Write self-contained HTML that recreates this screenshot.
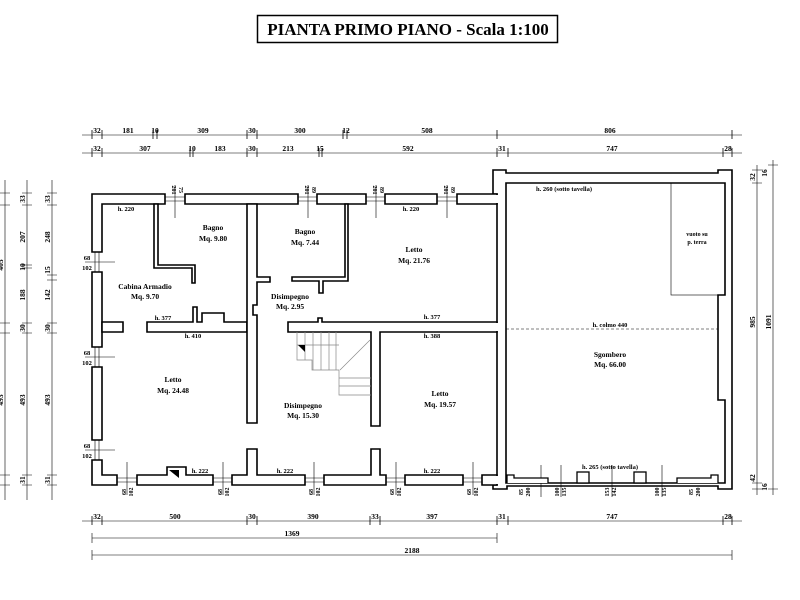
<!DOCTYPE html>
<html><head><meta charset="utf-8"><style>
html,body{margin:0;padding:0;background:#fff;width:800px;height:600px;overflow:hidden}
svg text{font-family:"Liberation Serif",serif;font-weight:bold;fill:#000}
</style></head><body>
<svg width="800" height="600" viewBox="0 0 800 600" xmlns="http://www.w3.org/2000/svg">
<rect x="257.5" y="15.5" width="300" height="27" fill="none" stroke="#000" stroke-width="1.5"/>
<text x="408" y="35" font-size="17" text-anchor="middle">PIANTA PRIMO PIANO - Scala 1:100</text>

<g stroke="#000" stroke-width="0.6" fill="none">
<line x1="82" y1="135" x2="742" y2="135"/>
<line x1="82" y1="153" x2="742" y2="153"/>
<g stroke-width="0.8">
<path d="M92 130v9M102 130v9M153 130v9M157 130v9M247 130v9M257 130v9M343 130v9M347 130v9M497 130v9M732 130v9"/>
<path d="M92 148v9M102 148v9M190 148v9M193 148v9M247 148v9M257 148v9M319 148v9M322 148v9M497 148v9M508 148v9M723 148v9M732 148v9"/>
</g>
<line x1="82" y1="521" x2="742" y2="521"/>
<path d="M92 516v9M102 516v9M247 516v9M257 516v9M370 516v9M380 516v9M497 516v9M508 516v9M723 516v9M732 516v9" stroke-width="0.8"/>
<line x1="92" y1="538" x2="497" y2="538"/><path d="M92 533v10M497 533v10"/>
<line x1="92" y1="555" x2="732" y2="555"/><path d="M92 550v10M732 550v10"/>
<line x1="5" y1="180" x2="5" y2="500"/>
<line x1="27" y1="180" x2="27" y2="500"/>
<line x1="52" y1="180" x2="52" y2="500"/>
<path d="M0 193h10M0 205h10M0 323h10M0 333h10M0 475h10M0 485h10M22 193h10M22 205h10M22 265h10M22 268h10M22 323h10M22 333h10M22 475h10M22 485h10M47 193h10M47 205h10M47 275h10M47 280h10M47 323h10M47 333h10M47 475h10M47 485h10"/>
<line x1="757" y1="165" x2="757" y2="495"/>
<line x1="773" y1="160" x2="773" y2="495"/>
<path d="M752 170h10M752 183h10M752 483h10M752 489h10M768 165h10M768 489h10"/>
</g>
<g font-size="7.5" text-anchor="middle">
<text x="97" y="133">32</text><text x="128" y="133">181</text><text x="155" y="133">10</text><text x="203" y="133">309</text><text x="252" y="133">30</text><text x="300" y="133">300</text><text x="346" y="133">12</text><text x="427" y="133">508</text><text x="610" y="133">806</text>
<text x="97" y="151">32</text><text x="145" y="151">307</text><text x="192" y="151">10</text><text x="220" y="151">183</text><text x="252" y="151">30</text><text x="288" y="151">213</text><text x="320" y="151">15</text><text x="408" y="151">592</text><text x="502" y="151">31</text><text x="612" y="151">747</text><text x="728" y="151">28</text>
<text x="97" y="519">32</text><text x="175" y="519">500</text><text x="252" y="519">30</text><text x="313" y="519">390</text><text x="375" y="519">33</text><text x="432" y="519">397</text><text x="502" y="519">31</text><text x="612" y="519">747</text><text x="728" y="519">28</text>
<text x="292" y="536">1369</text><text x="412" y="553">2188</text>
</g>
<g font-size="7.5" text-anchor="middle">
<text transform="translate(25,237) rotate(-90)">207</text><text transform="translate(25,295) rotate(-90)">188</text><text transform="translate(25,400) rotate(-90)">493</text><text transform="translate(25,199) rotate(-90)">33</text><text transform="translate(25,328) rotate(-90)">30</text><text transform="translate(25,267) rotate(-90)">10</text><text transform="translate(25,480) rotate(-90)">31</text>
<text transform="translate(50,237) rotate(-90)">248</text><text transform="translate(50,295) rotate(-90)">142</text><text transform="translate(50,400) rotate(-90)">493</text><text transform="translate(50,199) rotate(-90)">33</text><text transform="translate(50,328) rotate(-90)">30</text><text transform="translate(50,270) rotate(-90)">15</text><text transform="translate(50,480) rotate(-90)">31</text>
<text transform="translate(3,265) rotate(-90)">405</text><text transform="translate(3,400) rotate(-90)">493</text>
<text transform="translate(755,322) rotate(-90)">985</text><text transform="translate(771,322) rotate(-90)">1091</text>
<text transform="translate(755,177) rotate(-90)">32</text><text transform="translate(767,173) rotate(-90)">16</text>
<text transform="translate(755,478) rotate(-90)">42</text><text transform="translate(767,487) rotate(-90)">16</text>
</g>

<g fill="#fff" stroke="#000" stroke-width="1.6">
<!-- right block walls (evenodd ring) -->
<path fill-rule="evenodd" d="M493 170H506V173H718V170H732V489H718V486H507V489H493V485H497V194H493Z M506 183H725V295H718V400H725V483H506Z"/>
<!-- outer walls left part -->
<path d="M92 194H165V204H102V252H92Z"/>
<path d="M185 194H298V204H185Z"/><path d="M317 194H366V204H317Z"/><path d="M385 194H437V204H385Z"/><path d="M457 194H497V204H457Z"/>
<path d="M92 272H102V347H92Z"/><path d="M92 367H102V440H92Z"/>
<path d="M92 460H102V475H117V485H92Z"/>
<path d="M137 475H167V467H186V475H213V485H137Z"/>
<path d="M232 475H247V449H257V475H305V485H232Z"/>
<path d="M324 475H371V449H380V475H386V485H324Z"/>
<path d="M405 475H463V485H405Z"/>
<path d="M482 475H497V485H482Z"/>
<!-- interior -->
<path d="M154 204H158V265H195V283H192V268H154Z"/>
<path d="M102 322H123V332H102Z"/>
<path d="M147 322H193V307H197V322H202V313H224V322H247V332H147Z"/>
<path d="M247 204H257V277H270V282H257V305H253V315H257V423H247Z"/>
<path d="M345 204H348V281H323V293H319V281H292V277H345Z"/>
<path d="M288 322H318V318H322V322H497V332H380V426H371V332H288Z"/>
</g>
<!-- junction cleanups -->
<g fill="#fff">
<rect x="494.5" y="195" width="4.5" height="8"/>
<rect x="494.5" y="323" width="4.5" height="8"/>
<rect x="494.5" y="476" width="4.5" height="8"/>
<rect x="93" y="195" width="8" height="8"/>
</g>
<!-- windows thin lines -->
<g stroke="#000" stroke-width="0.6" fill="none">
<path d="M165 197H185M165 201H185M298 197H317M298 201H317M366 197H385M366 201H385M437 197H457M437 201H457"/>
<path d="M95 252V272M99 252V272M95 347V367M99 347V367M95 440V460M99 440V460"/>
<path d="M117 478H137M117 482H137M213 478H232M213 482H232M305 478H324M305 482H324M386 478H405M386 482H405M463 478H482M463 482H482"/>
<path d="M175 185V218M308 185V218M376 185V218M447 185V218"/>
<path d="M85 262H115M85 357H115M85 450H115"/>
<path d="M127 462V495M223 462V495M314 462V495M396 462V495M473 462V495"/>
<path d="M541 465V497M561 465V497M612 465V497M662 465V497"/>
<rect x="671" y="183" width="54" height="112"/>
<line x1="506" y1="329" x2="718" y2="329" stroke-dasharray="3,2"/>
</g>
<g fill="#fff" stroke="#000" stroke-width="1.3">
<rect x="577" y="472" width="12" height="11"/><rect x="634" y="472" width="12" height="11"/>
<path d="M507 483V475H514V478H548V483"/>
<path d="M718 483V475H711V478H677V483"/>
</g>
<polygon points="169,470 179,470 179,478" fill="#000"/>
<!-- stairs -->
<g stroke="#888" stroke-width="0.7" fill="none">
<path d="M297 332V360H312V370H339V395H371"/>
<path d="M305 332V360M313 332V370M321 332V370M329 332V370M336 332V370M339 378H371M339 386H371M297 345H339M340 370L370 340"/>
</g>
<polygon points="298,345 305,345 305,352" fill="#000"/>

<g font-size="7.5" text-anchor="middle">
<text x="213" y="230">Bagno</text><text x="213" y="241">Mq. 9.80</text>
<text x="305" y="234">Bagno</text><text x="305" y="245">Mq. 7.44</text>
<text x="414" y="252">Letto</text><text x="414" y="263">Mq. 21.76</text>
<text x="145" y="289">Cabina Armadio</text><text x="145" y="299">Mq. 9.70</text>
<text x="290" y="299">Disimpegno</text><text x="290" y="309">Mq. 2.95</text>
<text x="173" y="382">Letto</text><text x="173" y="393">Mq. 24.48</text>
<text x="303" y="408">Disimpegno</text><text x="303" y="418">Mq. 15.30</text>
<text x="440" y="396">Letto</text><text x="440" y="407">Mq. 19.57</text>
<text x="610" y="357">Sgombero</text><text x="610" y="367">Mq. 66.00</text>
</g>
<g font-size="6.5" text-anchor="middle">
<text x="126" y="211">h. 220</text><text x="411" y="211">h. 220</text>
<text x="163" y="320">h. 377</text><text x="432" y="319">h. 377</text>
<text x="193" y="338">h. 410</text><text x="432" y="338">h. 388</text>
<text x="200" y="473">h. 222</text><text x="285" y="473">h. 222</text><text x="432" y="473">h. 222</text>
<text x="564" y="191">h. 260 (sotto tavella)</text>
<text x="610" y="327">h. colmo 440</text>
<text x="610" y="469">h. 265 (sotto tavella)</text>
<text x="697" y="236" font-size="6">vuoto su</text><text x="697" y="244" font-size="6">p. terra</text>
<text x="87" y="260">68</text><text x="87" y="270">102</text>
<text x="87" y="355">68</text><text x="87" y="365">102</text>
<text x="87" y="448">68</text><text x="87" y="458">102</text>
</g>
<g font-size="6" text-anchor="middle">
<text transform="translate(172,190) rotate(90)">201</text><text transform="translate(179,190) rotate(90)">75</text>
<text transform="translate(305,190) rotate(90)">201</text><text transform="translate(312,190) rotate(90)">89</text>
<text transform="translate(373,190) rotate(90)">201</text><text transform="translate(380,190) rotate(90)">89</text>
<text transform="translate(444,190) rotate(90)">201</text><text transform="translate(451,190) rotate(90)">89</text>
<text transform="translate(126,492) rotate(-90)">68</text><text transform="translate(133,492) rotate(-90)">102</text>
<text transform="translate(222,492) rotate(-90)">68</text><text transform="translate(229,492) rotate(-90)">102</text>
<text transform="translate(313,492) rotate(-90)">68</text><text transform="translate(320,492) rotate(-90)">102</text>
<text transform="translate(394,492) rotate(-90)">68</text><text transform="translate(401,492) rotate(-90)">102</text>
<text transform="translate(471,492) rotate(-90)">68</text><text transform="translate(478,492) rotate(-90)">102</text>
<text transform="translate(523,492) rotate(-90)">85</text><text transform="translate(530,492) rotate(-90)">200</text>
<text transform="translate(559,492) rotate(-90)">100</text><text transform="translate(566,492) rotate(-90)">135</text>
<text transform="translate(609,492) rotate(-90)">153</text><text transform="translate(616,492) rotate(-90)">142</text>
<text transform="translate(659,492) rotate(-90)">100</text><text transform="translate(666,492) rotate(-90)">135</text>
<text transform="translate(693,492) rotate(-90)">85</text><text transform="translate(700,492) rotate(-90)">200</text>
</g>
</svg>
</body></html>
